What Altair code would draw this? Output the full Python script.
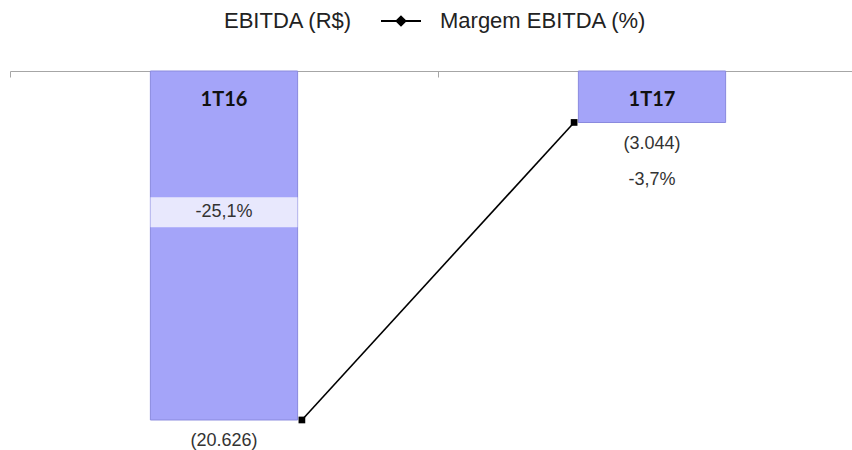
import altair as alt
import pandas as pd

# ---- data ----
periods = ["1T16", "1T17"]
ebitda = [-20626, -3044]          # EBITDA (R$ mil)
margin = [-25.1, -3.7]            # Margem EBITDA (%)
series_names = ["EBITDA (R$)", "Margem EBITDA (%)"]


def fmt_value(v):
    return "(" + f"{abs(v):,}".replace(",", ".") + ")"


def fmt_pct(m):
    return f"{m:.1f}%".replace(".", ",")


df = pd.DataFrame({
    "period": periods,
    "idx": list(range(len(periods))),
    "ebitda": ebitda,
    "margin": margin,
    "value_label": [fmt_value(v) for v in ebitda],
    "margin_label": [fmt_pct(m) for m in margin],
    "series": series_names[1],
    "zero": 0,
})

# ---- layout / style ----
W, H = 842, 379
BAR_HALF = 0.172
LINE_OFF = 0.182
LABEL_FRAC = 0.405
BAR_COLOR = "#a4a4f9"
TEXT_FONT = "Liberation Sans"

xscale = alt.Scale(domain=[-0.5, -0.5 + W / 428], nice=False, zero=False)
yscale = alt.Scale(domain=[-22400, 0], nice=False, zero=False)
mscale = alt.Scale(domain=[-27.26, 0], nice=False, zero=False)
xaxis = alt.Axis(values=[-0.5, 0.5, 1.5], labels=False, title=None, grid=False,
                 domainColor="#a6a6a6", tickColor="#a6a6a6", tickSize=6,
                 orient="bottom", offset=-H)

base = alt.Chart(df)

bars = base.transform_calculate(
    x_lo=f"datum.idx - {BAR_HALF}", x_hi=f"datum.idx + {BAR_HALF}"
).mark_rect(fill=BAR_COLOR, stroke="#8a8ade", strokeWidth=1).encode(
    x=alt.X("x_lo:Q", scale=xscale, axis=xaxis),
    x2="x_hi:Q",
    y=alt.Y("ebitda:Q", scale=yscale, axis=None),
    y2="zero:Q",
)

inside = "datum.ebitda < -10000"

band = base.transform_filter(inside).transform_calculate(
    ly=f"datum.ebitda * {LABEL_FRAC}"
).mark_tick(orient="horizontal", size=147, thickness=30, color="#e8e8fd", opacity=1).encode(
    x=alt.X("idx:Q", scale=xscale, axis=xaxis),
    y=alt.Y("ly:Q", scale=yscale, axis=None),
)

cat_text = base.mark_text(font="Lato", fontWeight="bold", fontSize=20, color="#111111",
                          baseline="middle", dy=29).encode(
    x=alt.X("idx:Q", scale=xscale, axis=xaxis),
    y=alt.Y("zero:Q", scale=yscale, axis=None),
    text="period:N",
)

val_text = base.mark_text(font=TEXT_FONT, fontSize=18, color="#333333",
                          baseline="middle", dy=21).encode(
    x=alt.X("idx:Q", scale=xscale, axis=xaxis),
    y=alt.Y("ebitda:Q", scale=yscale, axis=None),
    text="value_label:N",
)

m_in_text = base.transform_filter(inside).transform_calculate(
    ly=f"datum.ebitda * {LABEL_FRAC}"
).mark_text(font=TEXT_FONT, fontSize=18, color="#333333", baseline="middle").encode(
    x=alt.X("idx:Q", scale=xscale, axis=xaxis),
    y=alt.Y("ly:Q", scale=yscale, axis=None),
    text="margin_label:N",
)

m_out_text = base.transform_filter("!(" + inside + ")").mark_text(
    font=TEXT_FONT, fontSize=18, color="#333333", baseline="middle", dy=57).encode(
    x=alt.X("idx:Q", scale=xscale, axis=xaxis),
    y=alt.Y("ebitda:Q", scale=yscale, axis=None),
    text="margin_label:N",
)

line_x = f"datum.idx + {LINE_OFF} * (1 - 2 * datum.idx)"

legend = alt.Legend(
    orient="none", legendX=154, legendY=-71, direction="horizontal", columns=2,
    title=None, labelFont=TEXT_FONT, labelFontSize=22, labelColor="#222222",
    labelOffset=18, labelLimit=0, columnPadding=24, symbolSize=1600, symbolStrokeWidth=2,
    symbolType="M-1,0H1M0,-0.22L0.22,0L0,0.22L-0.22,0ZM0,-0.1L0.1,0L0,0.1L-0.1,0Z",
)

line = base.transform_calculate(lx=line_x).mark_line(strokeWidth=1.6).encode(
    x=alt.X("lx:Q", scale=xscale, axis=xaxis),
    y=alt.Y("margin:Q", scale=mscale, axis=None),
    color=alt.Color("series:N", scale=alt.Scale(domain=series_names, range=["white", "black"]),
                    legend=legend),
)

squares = base.transform_calculate(lx=line_x).mark_square(size=45, color="black", opacity=1).encode(
    x=alt.X("lx:Q", scale=xscale, axis=xaxis),
    y=alt.Y("margin:Q", scale=mscale, axis=None),
)

chart = alt.layer(bars, band, cat_text, val_text, m_in_text, m_out_text, line, squares).resolve_scale(
    y="independent"
).properties(
    width=W, height=H,
    autosize=alt.AutoSizeParams(type="none"),
    padding={"left": 10, "top": 71, "right": 0, "bottom": 0},
    background="white",
).configure_view(stroke=None)

chart.save("out.html", embed_options={"renderer": "svg", "actions": False})
